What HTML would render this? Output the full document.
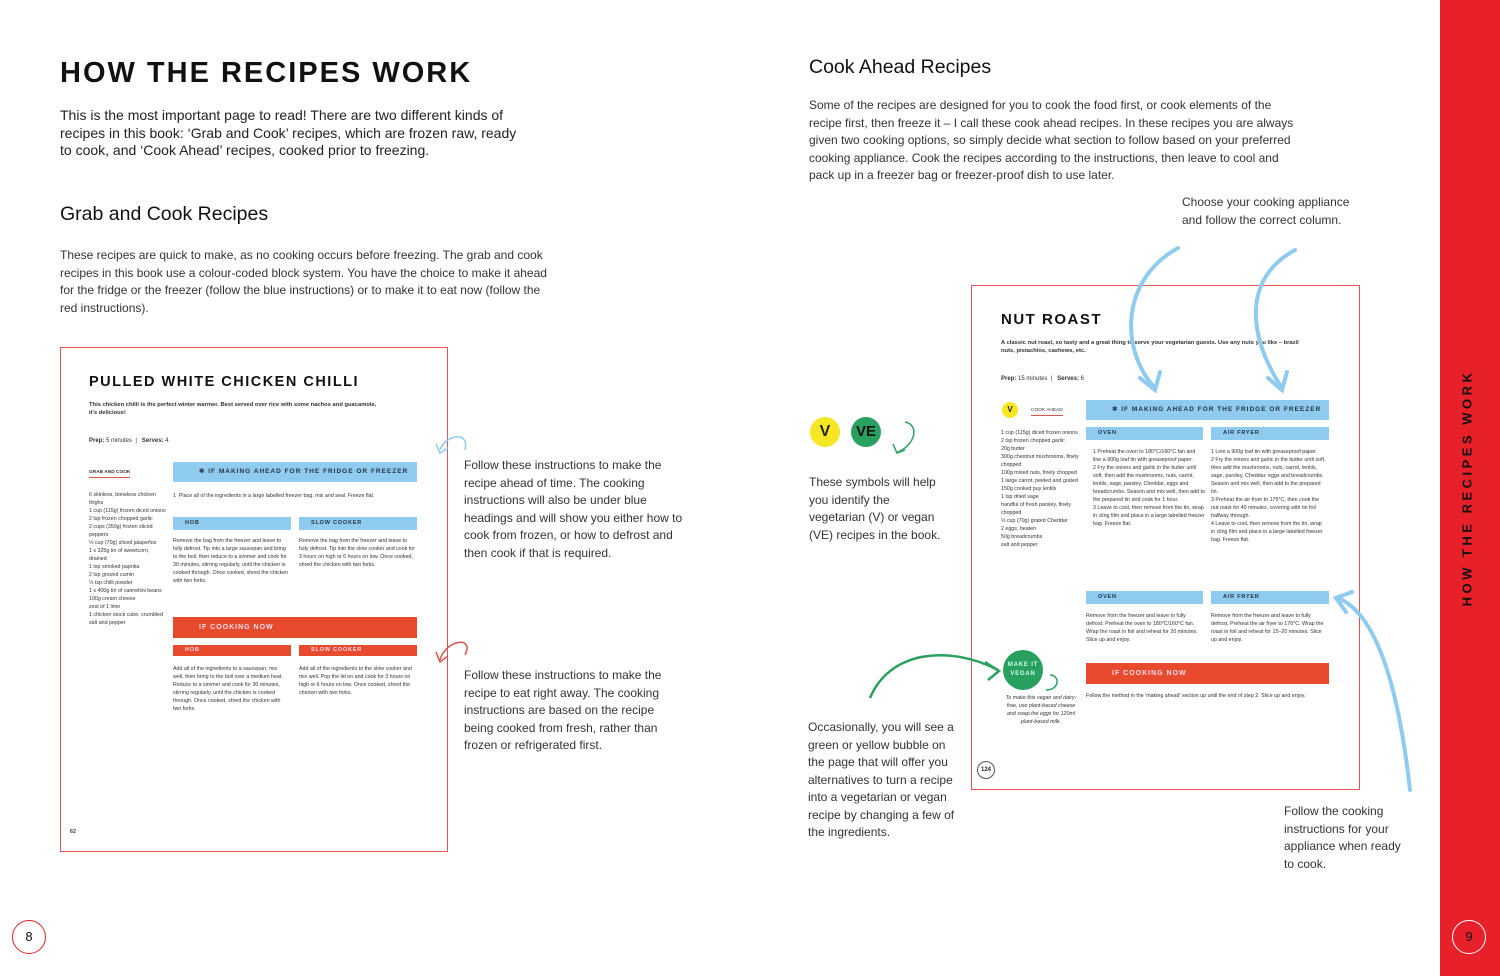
<!DOCTYPE html>
<html><head><meta charset="utf-8">
<style>
*{margin:0;padding:0;box-sizing:border-box}
body{width:1500px;height:976px;background:#fff;position:relative;overflow:hidden;font-family:"Liberation Sans",sans-serif;color:#222}
.a{position:absolute}
.t{font-size:12px;line-height:17.5px;color:#333}
.card{position:absolute;border:1.5px solid #e0555a;background:#fff}
.bb{position:absolute;background:#8fcbee;color:#234;font-weight:bold;font-size:6.5px;letter-spacing:1px;padding-left:26px;line-height:20px;white-space:nowrap;overflow:hidden}
.sb{position:absolute;background:#8fcbee;color:#234;font-weight:bold;font-size:5.5px;letter-spacing:.8px;padding-left:12px;line-height:13px;white-space:nowrap}
.rb{position:absolute;background:#e84a2e;color:#fde;font-weight:bold;font-size:7px;letter-spacing:1px;padding-left:26px;line-height:21px;white-space:nowrap}
.rs{position:absolute;background:#e84a2e;color:#fde;font-weight:bold;font-size:5.5px;letter-spacing:.8px;padding-left:12px;line-height:11px;white-space:nowrap}
.s{position:absolute;font-size:5.3px;line-height:8px;color:#333}
</style></head><body>
<div class="a" style="left:60px;top:57px;font-size:29px;font-weight:bold;letter-spacing:2px;color:#111">HOW THE RECIPES WORK</div>
<div class="a" style="left:60px;top:107px;font-size:14px;line-height:17.5px;color:#222;width:470px">This is the most important page to read! There are two different kinds of recipes in this book: ‘Grab and Cook’ recipes, which are frozen raw, ready to cook, and ‘Cook Ahead’ recipes, cooked prior to freezing.</div>
<div class="a" style="left:60px;top:203px;font-size:19.5px;color:#111">Grab and Cook Recipes</div>
<div class="a t" style="left:60px;top:247px;width:490px">These recipes are quick to make, as no cooking occurs before freezing. The grab and cook recipes in this book use a colour-coded block system. You have the choice to make it ahead for the fridge or the freezer (follow the blue instructions) or to make it to eat now (follow the red instructions).</div>
<div class="a" style="left:809px;top:56px;font-size:19.5px;color:#111">Cook Ahead Recipes</div>
<div class="a t" style="left:809px;top:97px;width:490px">Some of the recipes are designed for you to cook the food first, or cook elements of the recipe first, then freeze it – I call these cook ahead recipes. In these recipes you are always given two cooking options, so simply decide what section to follow based on your preferred cooking appliance. Cook the recipes according to the instructions, then leave to cool and pack up in a freezer bag or freezer-proof dish to use later.</div>
<div class="a t" style="left:1182px;top:194px;width:190px">Choose your cooking appliance and follow the correct column.</div>
<div class="a t" style="left:464px;top:457px;width:225px">Follow these instructions to make the recipe ahead of time. The cooking instructions will also be under blue headings and will show you either how to cook from frozen, or how to defrost and then cook if that is required.</div>
<div class="a t" style="left:464px;top:667px;width:210px">Follow these instructions to make the recipe to eat right away. The cooking instructions are based on the recipe being cooked from fresh, rather than frozen or refrigerated first.</div>
<div class="a t" style="left:809px;top:474px;width:140px">These symbols will help you identify the vegetarian (V) or vegan (VE) recipes in the book.</div>
<div class="a t" style="left:808px;top:719px;width:148px">Occasionally, you will see a green or yellow bubble on the page that will offer you alternatives to turn a recipe into a vegetarian or vegan recipe by changing a few of the ingredients.</div>
<div class="a t" style="left:1284px;top:803px;width:130px">Follow the cooking instructions for your appliance when ready to cook.</div>
<div class="a" style="left:810px;top:417px;width:30px;height:30px;border-radius:50%;background:#f7e624;font-weight:bold;font-size:16px;text-align:center;line-height:30px;color:#222">V</div>
<div class="a" style="left:851px;top:417px;width:30px;height:30px;border-radius:50%;background:#2aa060;font-weight:bold;font-size:15px;text-align:center;line-height:30px;color:#111">VE</div>

<div class="card" style="left:60px;top:347px;width:388px;height:505px"></div>
<div class="a" style="left:89px;top:374px;font-size:14.5px;font-weight:bold;letter-spacing:1.5px;color:#111">PULLED WHITE CHICKEN CHILLI</div>
<div class="s" style="left:89px;top:401px;width:290px;font-weight:bold;font-size:5.8px">This chicken chilli is the perfect winter warmer. Best served over rice with some nachos and guacamole, it's delicious!</div>
<div class="s" style="left:89px;top:437px;font-size:6px"><b>Prep:</b> 5 minutes &nbsp;| &nbsp;&nbsp;<b>Serves:</b> 4</div>
<div class="s" style="left:89px;top:469px;font-weight:bold;font-size:4.8px;border-bottom:1px solid #d9534f">GRAB AND COOK</div>
<div class="s" style="left:89px;top:491px;width:78px">6 skinless, boneless chicken thighs<br>1 cup (115g) frozen diced onions<br>2 tsp frozen chopped garlic<br>2 cups (350g) frozen sliced peppers<br>⅓ cup (70g) sliced jalapeños<br>1 x 325g tin of sweetcorn, drained<br>1 tsp smoked paprika<br>2 tsp ground cumin<br>⅓ tsp chilli powder<br>1 x 400g tin of cannellini beans<br>100g cream cheese<br>zest of 1 lime<br>1 chicken stock cube, crumbled<br>salt and pepper</div>
<div class="bb" style="left:173px;top:462px;width:244px">✻ IF MAKING AHEAD FOR THE FRIDGE OR FREEZER</div>
<div class="s" style="left:173px;top:492px">1 &nbsp;Place all of the ingredients in a large labelled freezer bag, mix and seal. Freeze flat.</div>
<div class="sb" style="left:173px;top:517px;width:118px">HOB</div>
<div class="sb" style="left:299px;top:517px;width:118px">SLOW COOKER</div>
<div class="s" style="left:173px;top:537px;width:116px">Remove the bag from the freezer and leave to fully defrost. Tip into a large saucepan and bring to the boil, then reduce to a simmer and cook for 30 minutes, stirring regularly, until the chicken is cooked through. Once cooked, shred the chicken with two forks.</div>
<div class="s" style="left:299px;top:537px;width:116px">Remove the bag from the freezer and leave to fully defrost. Tip into the slow cooker and cook for 3 hours on high or 6 hours on low. Once cooked, shred the chicken with two forks.</div>
<div class="rb" style="left:173px;top:617px;width:244px">IF COOKING NOW</div>
<div class="rs" style="left:173px;top:645px;width:118px">HOB</div>
<div class="rs" style="left:299px;top:645px;width:118px">SLOW COOKER</div>
<div class="s" style="left:173px;top:665px;width:116px">Add all of the ingredients to a saucepan, mix well, then bring to the boil over a medium heat. Reduce to a simmer and cook for 30 minutes, stirring regularly, until the chicken is cooked through. Once cooked, shred the chicken with two forks.</div>
<div class="s" style="left:299px;top:665px;width:116px">Add all of the ingredients to the slow cooker and mix well. Pop the lid on and cook for 3 hours on high or 6 hours on low. Once cooked, shred the chicken with two forks.</div>
<div class="s" style="left:70px;top:828px;font-weight:bold">62</div>

<div class="card" style="left:971px;top:285px;width:389px;height:505px"></div>
<div class="a" style="left:1001px;top:311px;font-size:15px;font-weight:bold;letter-spacing:1.5px;color:#111">NUT ROAST</div>
<div class="s" style="left:1001px;top:339px;width:300px;font-weight:bold;font-size:5.8px">A classic nut roast, so tasty and a great thing to serve your vegetarian guests. Use any nuts you like – brazil nuts, pistachios, cashews, etc.</div>
<div class="s" style="left:1001px;top:375px;font-size:6px"><b>Prep:</b> 15 minutes &nbsp;| &nbsp;&nbsp;<b>Serves:</b> 6</div>
<div class="a" style="left:1002px;top:402px;width:16px;height:16px;border-radius:50%;background:#f7e624;font-size:8px;font-weight:bold;text-align:center;line-height:16px">V</div>
<div class="s" style="left:1031px;top:407px;font-size:4.8px;border-bottom:1px solid #d9534f">COOK AHEAD</div>
<div class="s" style="left:1001px;top:429px;width:80px">1 cup (115g) diced frozen onions<br>2 tsp frozen chopped garlic<br>20g butter<br>300g chestnut mushrooms, finely chopped<br>100g mixed nuts, finely chopped<br>1 large carrot, peeled and grated<br>150g cooked puy lentils<br>1 tsp dried sage<br>handful of fresh parsley, finely chopped<br>⅓ cup (70g) grated Cheddar<br>2 eggs, beaten<br>50g breadcrumbs<br>salt and pepper</div>
<div class="bb" style="left:1086px;top:400px;width:243px">✻ IF MAKING AHEAD FOR THE FRIDGE OR FREEZER</div>
<div class="sb" style="left:1086px;top:427px;width:117px">OVEN</div>
<div class="sb" style="left:1211px;top:427px;width:118px">AIR FRYER</div>
<div class="s" style="left:1093px;top:448px;width:112px">1 Preheat the oven to 180°C/160°C fan and line a 900g loaf tin with greaseproof paper.<br>2 Fry the onions and garlic in the butter until soft, then add the mushrooms, nuts, carrot, lentils, sage, parsley, Cheddar, eggs and breadcrumbs. Season and mix well, then add to the prepared tin and cook for 1 hour.<br>3 Leave to cool, then remove from the tin, wrap in cling film and place in a large labelled freezer bag. Freeze flat.</div>
<div class="s" style="left:1211px;top:448px;width:116px">1 Line a 900g loaf tin with greaseproof paper.<br>2 Fry the onions and garlic in the butter until soft, then add the mushrooms, nuts, carrot, lentils, sage, parsley, Cheddar, eggs and breadcrumbs. Season and mix well, then add to the prepared tin.<br>3 Preheat the air fryer to 175°C, then cook the nut roast for 40 minutes, covering with tin foil halfway through.<br>4 Leave to cool, then remove from the tin, wrap in cling film and place in a large labelled freezer bag. Freeze flat.</div>
<div class="sb" style="left:1086px;top:591px;width:117px">OVEN</div>
<div class="sb" style="left:1211px;top:591px;width:118px">AIR FRYER</div>
<div class="s" style="left:1086px;top:612px;width:118px">Remove from the freezer and leave to fully defrost. Preheat the oven to 180°C/160°C fan. Wrap the roast in foil and reheat for 20 minutes. Slice up and enjoy.</div>
<div class="s" style="left:1211px;top:612px;width:116px">Remove from the freezer and leave to fully defrost. Preheat the air fryer to 170°C. Wrap the roast in foil and reheat for 15–20 minutes. Slice up and enjoy.</div>
<div class="rb" style="left:1086px;top:663px;width:243px">IF COOKING NOW</div>
<div class="s" style="left:1086px;top:692px;width:240px">Follow the method in the 'making ahead' section up until the end of step 2. Slice up and enjoy.</div>
<div class="a" style="left:1003px;top:650px;width:40px;height:40px;border-radius:50%;background:#2aa060;color:#cfe;font-size:6px;font-weight:bold;text-align:center;line-height:9px;padding-top:11px;letter-spacing:.8px">MAKE IT<br>VEGAN</div>
<div class="s" style="left:1003px;top:694px;width:76px;text-align:center;font-style:italic">To make this vegan and dairy-free, use plant-based cheese and swap the eggs for 120ml plant-based milk.</div>
<div class="a" style="left:977px;top:761px;width:18px;height:18px;border-radius:50%;border:1px solid #555;font-size:6px;font-weight:bold;text-align:center;line-height:16px">124</div>

<div class="a" style="left:1440px;top:0;width:60px;height:976px;background:#e8202a"></div>
<div class="a" style="left:1467px;top:488px;transform:translate(-50%,-50%) rotate(-90deg);white-space:nowrap;font-size:13px;font-weight:bold;letter-spacing:3.5px;color:#111">HOW THE RECIPES WORK</div>
<div class="a" style="left:1452px;top:920px;width:34px;height:34px;border-radius:50%;border:1.5px solid #fff;color:#111;font-size:13px;text-align:center;line-height:31px">9</div>
<div class="a" style="left:12px;top:920px;width:34px;height:34px;border-radius:50%;border:1.5px solid #e8202a;color:#111;font-size:13px;text-align:center;line-height:31px">8</div>

<svg class="a" style="left:0;top:0" width="1500" height="976">
<g fill="none" stroke="#8fcbee" stroke-width="4" stroke-linecap="round">
<path d="M1178 248 C1120 280 1120 350 1155 388"/><path d="M1140 378 L1155 390 L1160 372"/>
<path d="M1295 250 C1240 280 1250 340 1282 388"/><path d="M1268 378 L1282 390 L1287 372"/>
<path d="M1410 790 C1400 700 1380 615 1338 598"/><path d="M1352 592 L1336 598 L1346 612"/>
</g>
<g fill="none" stroke="#8fcbee" stroke-width="1.5">
<path d="M440 450 C445 435 470 430 465 450"/><path d="M436 444 L440 453 L448 448"/>
</g>
<g fill="none" stroke="#d9534f" stroke-width="1.5">
<path d="M440 660 C445 640 475 635 465 655"/><path d="M436 652 L440 662 L448 656"/>
</g>
<g fill="none" stroke="#2aa060" stroke-width="1.5">
<path d="M898 452 C915 445 920 425 905 422"/><path d="M893 444 L897 453 L905 450"/>
<path d="M1046 690 C1060 690 1060 675 1050 675"/>
</g>
<g fill="none" stroke="#2aa060" stroke-width="2.5">
<path d="M870 698 C890 650 950 645 998 670"/><path d="M985 662 L999 671 L988 680"/>
</g>
</svg>
</body></html>
